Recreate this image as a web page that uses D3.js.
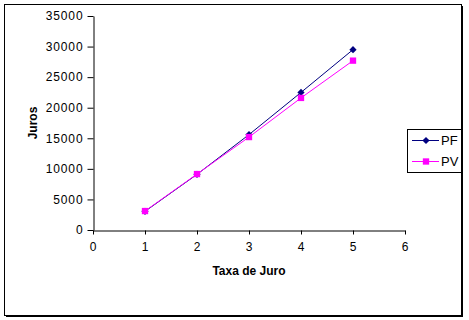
<!DOCTYPE html>
<html>
<head>
<meta charset="utf-8">
<style>
  body { margin: 0; background: #fff; }
  svg text { font-family: "Liberation Sans", Arial, sans-serif; }
</style>
</head>
<body>
<div id="chart"></div>
<script src="https://d3js.org/d3.v7.min.js"></script>
<script>
// data
var taxas = [1, 2, 3, 4, 5];
var pf = [3050, 9100, 15600, 22500, 29500];
var pv = [3100, 9150, 15200, 21600, 27700];
var xTicks = [0, 1, 2, 3, 4, 5, 6];
var yTicks = [0, 5000, 10000, 15000, 20000, 25000, 30000, 35000];

var W = 469, H = 320;
var plot = {left: 93, right: 405, top: 16, bottom: 230};

var svg = d3.select("#chart").append("svg")
    .attr("width", W)
    .attr("height", H);

// outer frame with shadow
svg.append("rect")
    .attr("x", 6).attr("y", 6)
    .attr("width", 457).attr("height", 311)
    .attr("fill", "#000");
svg.append("rect")
    .attr("x", 4.5).attr("y", 4.5)
    .attr("width", 457).attr("height", 311)
    .attr("fill", "#fff")
    .attr("stroke", "#000");

var x = d3.scaleLinear().domain([0, 6]).range([plot.left, plot.right]);
var y = d3.scaleLinear().domain([0, 35000]).range([plot.bottom, plot.top]);

// axes
var xAxis = svg.append("g")
    .attr("transform", "translate(0," + (plot.bottom + 0.5) + ")")
    .call(d3.axisBottom(x).tickValues(xTicks).tickSize(4).tickPadding(8).tickSizeOuter(0)
      .tickFormat(d3.format("d")));
var yAxis = svg.append("g")
    .attr("transform", "translate(" + (plot.left + 0.5) + ",0)")
    .call(d3.axisLeft(y).tickValues(yTicks).tickSize(6).tickPadding(4).tickSizeOuter(0)
      .tickFormat(d3.format("d")));

[xAxis, yAxis].forEach(function(a) {
  a.select(".domain").attr("stroke", "#000");
  a.selectAll(".tick line").attr("stroke", "#000");
  a.selectAll("text")
    .attr("fill", "#000")
    .style("font-size", "12px")
    .style("letter-spacing", "0.9px");
});

// axis titles
svg.append("text")
    .attr("x", (plot.left + plot.right) / 2)
    .attr("y", 275)
    .attr("text-anchor", "middle")
    .style("font-size", "12px")
    .style("font-weight", "bold")
    .text("Taxa de Juro");

svg.append("text")
    .attr("transform", "translate(37," + ((plot.top + plot.bottom) / 2) + ") rotate(-90)")
    .attr("text-anchor", "middle")
    .style("font-size", "12px")
    .style("font-weight", "bold")
    .text("Juros");

var series = [
  {name: "PF", values: pf, color: "#000080", shape: d3.symbolSquare, size: 26, rot: 45},
  {name: "PV", values: pv, color: "#FF00FF", shape: d3.symbolSquare, size: 40, rot: 0}
];

var line = d3.line()
    .x(function(d) { return x(d[0]); })
    .y(function(d) { return y(d[1]); });

series.forEach(function(s) {
  var pts = taxas.map(function(t, i) { return [t, s.values[i]]; });
  svg.append("path")
      .datum(pts)
      .attr("fill", "none")
      .attr("stroke", s.color)
      .attr("stroke-width", 1)
      .attr("d", line);
  svg.selectAll(null)
      .data(pts)
      .enter().append("path")
      .attr("transform", function(d) {
        return "translate(" + x(d[0]) + "," + y(d[1]) + ") rotate(" + s.rot + ")";
      })
      .attr("d", d3.symbol().type(s.shape).size(s.size))
      .attr("fill", s.color);
});

// legend
var lg = svg.append("g").attr("transform", "translate(407,129)");
lg.append("rect")
    .attr("x", 0.5).attr("y", 0.5)
    .attr("width", 54).attr("height", 43)
    .attr("fill", "#fff")
    .attr("stroke", "#000");

var item = lg.selectAll("g.item")
    .data(series)
    .enter().append("g")
    .attr("class", "item")
    .attr("transform", function(d, i) { return "translate(0," + (11.5 + i * 21) + ")"; });

item.append("line")
    .attr("x1", 5).attr("x2", 32)
    .attr("stroke", function(d) { return d.color; });
item.append("path")
    .attr("transform", function(d) { return "translate(19,0) rotate(" + d.rot + ")"; })
    .attr("d", function(d) { return d3.symbol().type(d.shape).size(d.size)(); })
    .attr("fill", function(d) { return d.color; });
item.append("text")
    .attr("x", 34)
    .attr("dy", "0.36em")
    .style("font-size", "13px")
    .text(function(d) { return d.name; });
</script>
</body>
</html>
